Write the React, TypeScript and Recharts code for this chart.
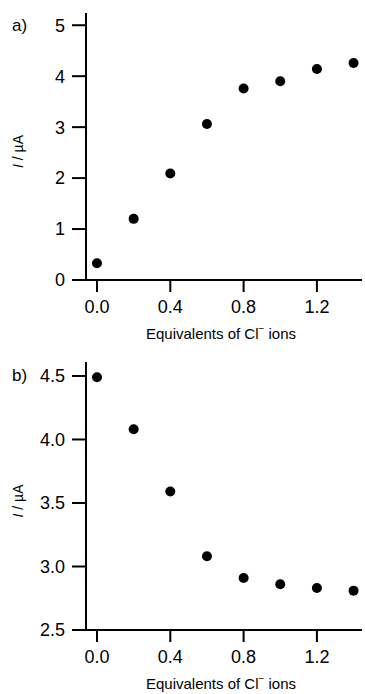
import React from 'react';
import { ScatterChart, Scatter, XAxis, YAxis } from 'recharts';

const equivalents = [0, 0.2, 0.4, 0.6, 0.8, 1.0, 1.2, 1.4];
const currentA = [0.33, 1.2, 2.09, 3.06, 3.76, 3.9, 4.14, 4.26];
const currentB = [4.49, 4.08, 3.59, 3.08, 2.91, 2.86, 2.83, 2.81];
const xTicks = [0, 0.4, 0.8, 1.2];
const yTicksA = [0, 1, 2, 3, 4, 5];
const yTicksB = [2.5, 3.0, 3.5, 4.0, 4.5];
const panelLabels = ['a)', 'b)'];
const xTitle = 'Equivalents of Cl';
const xTitleSuffix = ' ions';

const FONT = '"Liberation Sans", Arial, Helvetica, sans-serif';
const W = 365;
const H = 347;

const Dot = (props: any) => <circle cx={props.cx} cy={props.cy} r={5} fill="#000" />;

const XTitle = (props: any) => {
  const vb = props.viewBox;
  return (
    <text x={vb.x + vb.width / 2 - 3} y={vb.y + 59} textAnchor="middle" fontFamily={FONT} fontSize={15} fill="#000">
      {xTitle}
      <tspan dy={-7} fontSize={10}>−</tspan>
      <tspan dy={7}>{xTitleSuffix}</tspan>
    </text>
  );
};

const makeYTitle = (panel: string, panelDy: number) => (props: any) => {
  const vb = props.viewBox;
  const cx = 23;
  const cy = vb.y + vb.height / 2 + 5;
  return (
    <g>
      <text x={12} y={vb.y + panelDy} fontFamily={FONT} fontSize={17} fill="#000">{panel}</text>
      <text x={cx} y={cy} transform={`rotate(-90, ${cx}, ${cy})`} textAnchor="middle" fontFamily={FONT} fontSize={14} fill="#000">
        <tspan fontStyle="italic">I</tspan>
        <tspan> / µA</tspan>
      </text>
    </g>
  );
};

type PanelProps = {
  values: number[];
  yTicks: number[];
  yDomain: [number, number];
  yDigits: number;
  top: number;
  xAxisHeight: number;
  panel: string;
  panelDy: number;
};

const Panel = ({ values, yTicks, yDomain, yDigits, top, xAxisHeight, panel, panelDy }: PanelProps) => {
  const data = equivalents.map((x, i) => ({ x, y: values[i] }));
  const axisStyle = { stroke: '#000', strokeWidth: 2 };
  const tickStyle = { fill: '#000', fontSize: 18, fontFamily: FONT };
  return (
    <ScatterChart width={W} height={H} margin={{ top, right: 3, bottom: 0, left: 0 }}>
      <XAxis
        type="number"
        dataKey="x"
        domain={[-0.06, 1.446]}
        ticks={xTicks}
        allowDataOverflow
        tickFormatter={(v: number) => v.toFixed(1)}
        height={xAxisHeight}
        axisLine={axisStyle}
        tickLine={axisStyle}
        tickSize={12}
        tickMargin={8}
        tick={tickStyle}
        label={{ content: XTitle }}
      />
      <YAxis
        type="number"
        dataKey="y"
        domain={yDomain}
        ticks={yTicks}
        allowDataOverflow
        tickFormatter={(v: number) => v.toFixed(yDigits)}
        width={86}
        axisLine={axisStyle}
        tickLine={axisStyle}
        tickSize={14}
        tickMargin={7}
        tick={tickStyle}
        label={{ content: makeYTitle(panel, panelDy) }}
      />
      <Scatter data={data} shape={Dot} isAnimationActive={false} />
    </ScatterChart>
  );
};

export default function App() {
  return (
    <div style={{ position: 'absolute', left: 0, top: 0, width: W, height: 2 * H, background: '#fff' }}>
      <div style={{ width: W, height: H }}>
        <Panel values={currentA} yTicks={yTicksA} yDomain={[0, 5.24]} yDigits={0} top={13} xAxisHeight={67} panel={panelLabels[0]} panelDy={18} />
      </div>
      <div style={{ width: W, height: H }}>
        <Panel values={currentB} yTicks={yTicksB} yDomain={[2.5, 4.61]} yDigits={1} top={15} xAxisHeight={64} panel={panelLabels[1]} panelDy={19} />
      </div>
    </div>
  );
}
